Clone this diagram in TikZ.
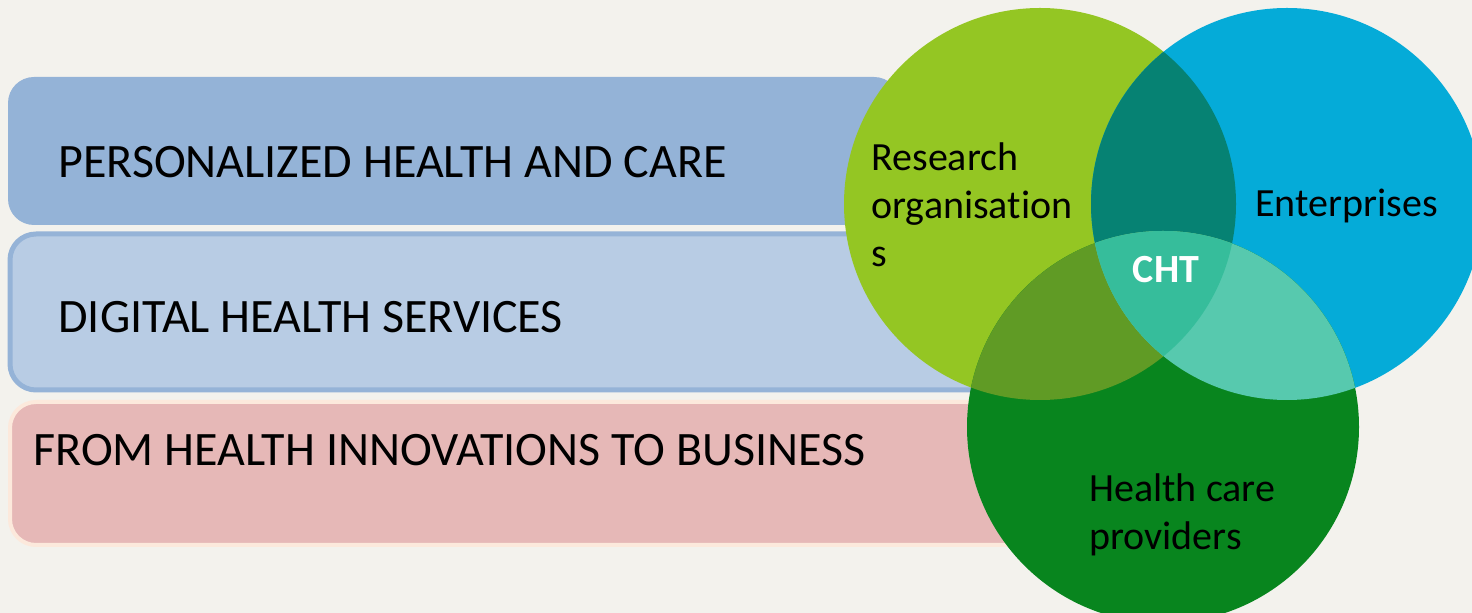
\documentclass[tikz,border=0pt]{standalone}
\usepackage{fontspec}
\setmainfont{Carlito}[Ligatures=NoCommon]
\definecolor{bg}{RGB}{243,242,237}
\definecolor{barA}{RGB}{148,179,215}
\definecolor{barB}{RGB}{184,204,228}
\definecolor{barBline}{RGB}{149,179,215}
\definecolor{barC}{RGB}{230,184,183}
\definecolor{barCline}{RGB}{252,233,220}
\definecolor{cA}{RGB}{148,198,35}
\definecolor{cB}{RGB}{5,171,216}
\definecolor{cC}{RGB}{8,133,30}
\definecolor{cAB}{RGB}{6,130,115}
\definecolor{cAC}{RGB}{96,155,37}
\definecolor{cBC}{RGB}{87,201,174}
\definecolor{cABC}{RGB}{54,189,155}
\tikzset{
  bar/.style={rounded corners=13pt},
  bartext/.style={anchor=base west, inner sep=0pt, font=\fontsize{24}{28}\selectfont, text=black},
  circtext/.style={anchor=base west, inner sep=0pt, align=left, font=\fontsize{20}{24}\selectfont, text=black},
}
\begin{document}
\begin{tikzpicture}[x=0.5pt,y=-0.5pt]
\fill[bg] (0,0) rectangle (1472,613);
\useasboundingbox (0,0) rectangle (1472,613);
% bars
\path[bar, fill=barA] (8,77) rectangle (900,225);
\path[bar, fill=barB, draw=barBline, line width=2.5pt] (10,234) rectangle (1000,390);
\path[bar, fill=barC, draw=barCline, line width=2pt] (10,402) rectangle (1040,545);
\node[bartext] (t1) at (58,178) {PERSONALIZED HEALTH AND CARE};
\node[bartext] (t2) at (58,333) {DIGITAL HEALTH SERVICES};
\node[bartext] (t3) at (33,466) {FROM HEALTH INNOVATIONS TO BUSINESS};
% circles
\coordinate (A) at (1040,204);
\coordinate (B) at (1287,204);
\coordinate (C) at (1163,427);
\def\rr{98pt}
\fill[cA] (A) circle[radius=\rr];
\fill[cB] (B) circle[radius=\rr];
\fill[cC] (C) circle[radius=\rr];
\begin{scope}
  \clip (A) circle[radius=\rr];
  \fill[cAB] (B) circle[radius=\rr];
  \fill[cAC] (C) circle[radius=\rr];
\end{scope}
\begin{scope}
  \clip (B) circle[radius=\rr];
  \fill[cBC] (C) circle[radius=\rr];
  \clip (C) circle[radius=\rr];
  \fill[cABC] (A) circle[radius=\rr];
\end{scope}
\node[circtext] (lA) at (871,266.4) {Research\\organisation\\s};
\node[circtext] (lB) at (1255,217) {Enterprises};
\node[circtext] (lC) at (1089,549.4) {Health care\\providers};
\node[anchor=base, inner sep=0pt, font=\fontsize{20}{24}\selectfont\bfseries, text=white] (cht) at (1166,283) {CHT};
\end{tikzpicture}
\end{document}
